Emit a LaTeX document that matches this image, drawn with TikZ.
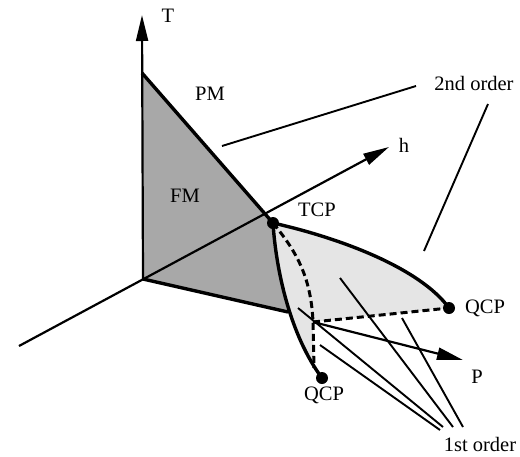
\documentclass[tikz,border=0pt]{standalone}
\usepackage{fontspec}
\setmainfont{Liberation Serif}
\usetikzlibrary{arrows.meta,calc}
\begin{document}
\begin{tikzpicture}[x=1pt, y=-1pt, line join=round, >={Triangle[length=26pt,width=12pt]},
	axis/.style={line width=2.2pt},
	bound/.style={line width=3.4pt},
	dashbound/.style={line width=3pt, dash pattern=on 7pt off 4pt},
	lead/.style={line width=1.9pt},
	lbl/.style={anchor=base, inner sep=0pt, font=\fontsize{20.5}{24}\selectfont}]
	\useasboundingbox (0,0) rectangle (520,456);
	\path (143,279) coordinate (O)
	(142,15) coordinate (Tend)
	(19,346) coordinate (hstart)
	(389,147) coordinate (hend)
	(142,73) coordinate (Ttop)
	(273,223) coordinate (TCP)
	(449,308) coordinate (QCPu)
	(322,378) coordinate (QCPl)
	(313,322) coordinate (B)
	(314,368) coordinate (Bd)
	(288,312) coordinate (E)
	(463,360) coordinate (pend)
	(416,86) coordinate (sa) (222,146) coordinate (ta)
	(488,104) coordinate (sb) (424,251) coordinate (tb)
	(298,308) coordinate (f1) (443,427) coordinate (g1)
	(320,345) coordinate (f2) (440,430) coordinate (g2)
	(340,278) coordinate (f3) (453,427) coordinate (g3)
	(402,318) coordinate (f4) (463,427) coordinate (g4);
	% sheets
	\fill[black!10] (TCP) .. controls (340,238) and (420,268) .. (QCPu) -- (B) -- (Bd) -- (QCPl) .. controls (290,335) and (276,270) .. (TCP) -- cycle;
	\begin{scope}
		\clip (O) -- ($(O)!1.5!(E)$) |- (Ttop) -- cycle;
		\fill[black!34] (Ttop) -- (TCP) .. controls (276,270) and (290,335) .. (QCPl) -- (O) -- cycle;
	\end{scope}
	% axes
	\draw[axis,->] (O) -- (Tend);
	\draw[axis,->] (hstart) -- (hend);
	\draw[axis,->] (B) -- (pend);
	% lines
	\draw[bound] (Ttop) -- (TCP) (O) -- (E);
	\draw[bound] (TCP) .. controls (340,238) and (420,268) .. (QCPu);
	\draw[bound] (TCP) .. controls (276,270) and (290,335) .. (QCPl);
	\draw[dashbound] (TCP) .. controls (295,250) and (311,275) .. (B) -- (Bd) (B) -- (QCPu);
	\foreach \p in {TCP, QCPu, QCPl}
	\fill (\p) circle (6);
	\draw[lead] (sa) -- (ta) (sb) -- (tb);
	\foreach \i in {1,...,4}
	\draw[lead] (f\i) -- (g\i);
	% labels
	\node[lbl] (labT) at (168,22) {T};
	\node[lbl] (labh) at (404,152) {h};
	\node[lbl] (labP) at (477,383) {P};
	\node[lbl] (labPM) at (210,100) {PM};
	\node[lbl] (labFM) at (185,202) {FM};
	\node[lbl] (labTCP) at (317,216) {TCP};
	\node[lbl] (labQCPu) at (485,313) {QCP};
	\node[lbl] (labQCPl) at (324,400) {QCP};
	\node[lbl] (lab2nd) at (474,90) {2nd order};
	\node[lbl] (lab1st) at (480,451) {1st order};
\end{tikzpicture}
\end{document}
